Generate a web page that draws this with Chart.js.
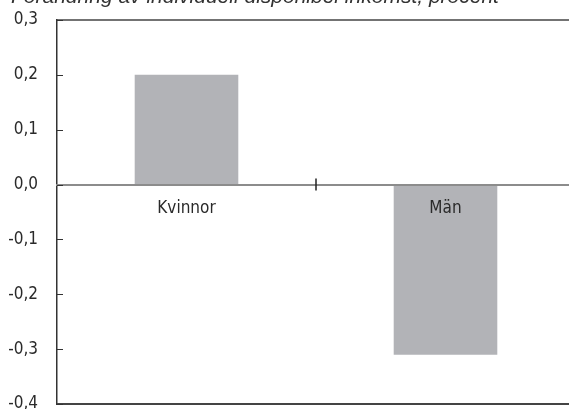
<!DOCTYPE html>
<html lang="sv">
<head>
    <meta charset="UTF-8">
    <title>Förändring av individuell disponibel inkomst</title>
    <script src="https://cdn.jsdelivr.net/npm/chart.js"></script>
    <style>
        body { margin: 0; overflow: hidden; background: #fff; }
        .wrap { position: relative; width: 575px; height: 409px; }
        .title {
            position: absolute; left: 11px; top: -14px;
            font: italic 21px "Liberation Sans", Arial, sans-serif;
            line-height: 20px; color: #333; white-space: nowrap;
        }
        canvas { position: absolute; left: 0; top: 0; }
    </style>
</head>
<body>
    <div class="wrap">
        <canvas id="chart" width="575" height="409"></canvas>
        <div class="title">Förändring av individuell disponibel inkomst, procent</div>
    </div>

    <script>
        // data
        const categories = ['Kvinnor', 'Män'];
        const changeValues = [0.2, -0.31];
        const yTicks = [-0.4, -0.3, -0.2, -0.1, 0.0, 0.1, 0.2, 0.3];

        const axisFont = { family: '"Liberation Sans Narrow", "DejaVu Sans Condensed", sans-serif', size: 17 };

        // frame lines, inward y ticks and the category divider tick
        const framePlugin = {
            id: 'frame',
            afterDraw(chart) {
                const ctx = chart.ctx;
                const area = chart.chartArea;
                const y = chart.scales.y;
                const x = chart.scales.x;
                ctx.save();
                ctx.strokeStyle = '#444';
                ctx.lineWidth = 1.5;
                ctx.beginPath();
                ctx.moveTo(area.left, area.top);
                ctx.lineTo(area.right, area.top);
                ctx.stroke();
                ctx.lineWidth = 2;
                ctx.beginPath();
                ctx.moveTo(area.left, area.bottom);
                ctx.lineTo(area.right, area.bottom);
                ctx.stroke();

                ctx.lineWidth = 1;
                ctx.strokeStyle = '#333';
                yTicks.forEach(v => {
                    const py = Math.round(y.getPixelForValue(v)) + 0.5;
                    ctx.beginPath();
                    ctx.moveTo(area.left, py);
                    ctx.lineTo(area.left + 6, py);
                    ctx.stroke();
                });

                const zero = y.getPixelForValue(0);
                ctx.lineWidth = 1.5;
                ctx.strokeStyle = '#222';
                for (let i = 0; i < categories.length - 1; i++) {
                    const px = Math.round((x.getPixelForValue(i) + x.getPixelForValue(i + 1)) / 2);
                    ctx.beginPath();
                    ctx.moveTo(px, zero - 6);
                    ctx.lineTo(px, zero + 6);
                    ctx.stroke();
                }
                ctx.restore();
            }
        };

        new Chart(document.getElementById('chart'), {
            type: 'bar',
            data: {
                labels: categories,
                datasets: [{
                    data: changeValues,
                    backgroundColor: '#b2b3b7',
                    borderWidth: 0,
                    barPercentage: 0.4,
                    categoryPercentage: 1.0
                }]
            },
            options: {
                responsive: false,
                devicePixelRatio: 1,
                animation: false,
                layout: { padding: { top: 20, bottom: 5, left: 0, right: 0 } },
                plugins: { legend: { display: false }, tooltip: { enabled: false } },
                scales: {
                    x: {
                        position: { y: 0 },
                        grid: { display: false, drawTicks: false },
                        border: { display: true, color: '#8c8c8c', width: 2, z: 1 },
                        ticks: { color: '#2a2a2a', font: axisFont, padding: 14, z: 1 },
                        afterFit(scale) { scale.height = 0; }
                    },
                    y: {
                        min: -0.4,
                        max: 0.3,
                        afterBuildTicks(scale) { scale.ticks = yTicks.map(v => ({ value: v })); },
                        grid: { display: false, drawTicks: false },
                        border: { display: true, color: '#333', width: 1.5 },
                        ticks: {
                            color: '#2a2a2a',
                            font: axisFont,
                            padding: 19,
                            callback: v => v.toFixed(1).replace('.', ',')
                        },
                        afterFit(scale) {
                            scale.width = 57;
                            scale.paddingTop = 0;
                            scale.paddingBottom = 0;
                        }
                    }
                }
            },
            plugins: [framePlugin]
        });
    </script>
</body>
</html>
